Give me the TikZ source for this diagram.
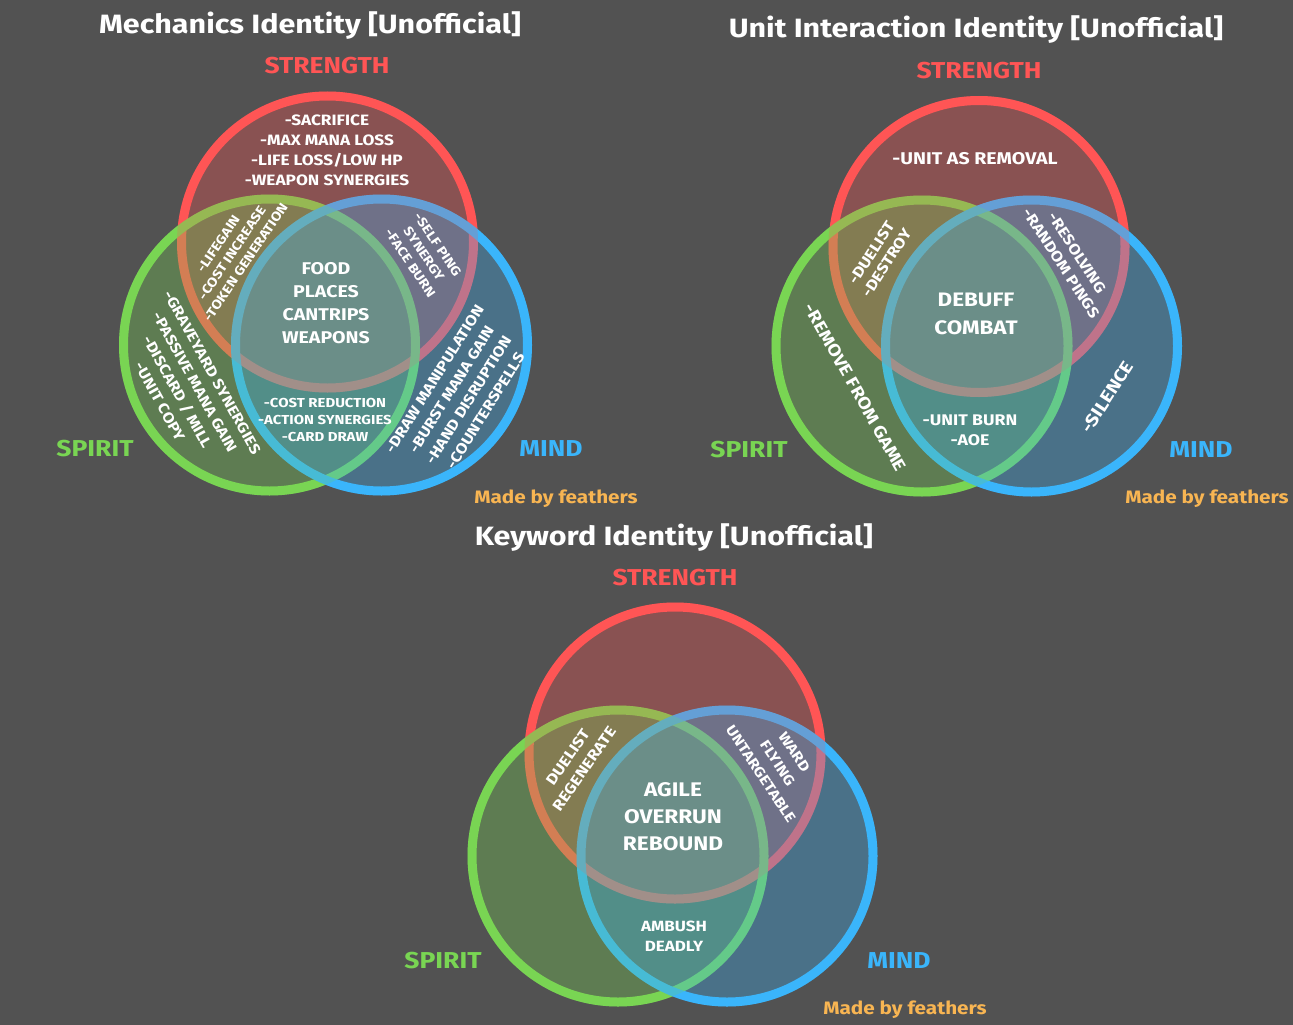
\documentclass[tikz,border=0pt]{standalone}
\usepackage{fontspec}
\setmainfont{Fira Sans}[FakeStretch=1.15]
\definecolor{bgc}{HTML}{525252}
\definecolor{strc}{HTML}{FF5555}
\definecolor{spic}{HTML}{79D553}
\definecolor{minc}{HTML}{3AB5FB}
\definecolor{sigc}{HTML}{F8B552}
\tikzset{
  ring/.style={line width=9pt},
  strring/.style={ring, draw=strc},
  spiring/.style={ring, draw=spic},
  minring/.style={ring, draw=minc},
  strfill/.style={fill=strc, fill opacity=0.32},
  spifill/.style={fill=spic, fill opacity=0.32},
  minfill/.style={fill=minc, fill opacity=0.32},
  txt/.style={text=white, align=center, inner sep=0pt},
  fs/.style 2 args={font=\fontsize{#1}{#2}\selectfont\bfseries},
  title/.style={txt, fs={26.5}{30}},
  head/.style={align=center, inner sep=0pt, fs={23}{26}},
  sign/.style={text=sigc, inner sep=0pt, fs={18}{20}},
}
% rings first, then translucent discs on top so crossing rings take the tint
\newcommand\drawvenn[6]{%
  \draw[strring] (#1,#2) circle[radius=146];
  \draw[spiring] (#3,#4) circle[radius=146];
  \draw[minring] (#5,#6) circle[radius=146];
  \fill[strfill] (#1,#2) circle[radius=150.5];
  \fill[spifill] (#3,#4) circle[radius=150.5];
  \fill[minfill] (#5,#6) circle[radius=150.5];
}
\begin{document}
\begin{tikzpicture}[x=1pt,y=-1pt]
\fill[bgc] (0,0) rectangle (1293,1025);
\useasboundingbox (0,0) rectangle (1293,1025);

% ---------------- Mechanics ----------------
\drawvenn{327.5}{242}{269.5}{345}{381.5}{345}
\node[title] (mt) at (310,26) {Mechanics Identity [Unofficial]};
\node[head, text=strc] (ms) at (327,66) {STRENGTH};
\node[head, text=spic] (mp) at (95,449) {SPIRIT};
\node[head, text=minc] (mm) at (551,449) {MIND};
\node[sign] (mf) at (556,499) {Made by feathers};
\node[txt, fs={15}{20}] (m1) at (327,150) {-SACRIFICE\\-MAX MANA LOSS\\-LIFE LOSS/LOW HP\\-WEAPON SYNERGIES};
\node[txt, fs={13}{16.5}, rotate=56] (m2) at (232,253) {-LIFEGAIN\\-COST INCREASE\\-TOKEN GENERATION};
\node[txt, fs={13}{16.5}, rotate=-56] (m3) at (424,254) {-SELF PING\\SYNERGY\\-FACE BURN};
\node[txt, fs={14.7}{20}, rotate=-61] (m4) at (186,387) {-GRAVEYARD SYNERGIES\\-PASSIVE MANA GAIN\\-DISCARD / MILL\\-UNIT COPY};
\node[txt, fs={14.7}{20}, rotate=58] (m5) at (460,395) {-DRAW MANIPULATION\\-BURST MANA GAIN\\-HAND DISRUPTION\\-COUNTERSPELLS};
\node[txt, fs={17}{23}] (m6) at (326,303.5) {FOOD\\PLACES\\CANTRIPS\\WEAPONS};
\node[txt, fs={13}{17}] (m7) at (325,420) {-COST REDUCTION\\-ACTION SYNERGIES\\-CARD DRAW};

% ---------------- Unit Interaction ----------------
\drawvenn{979}{246.5}{922}{346}{1031.5}{346}
\node[title] (ut) at (976,30) {Unit Interaction Identity [Unofficial]};
\node[head, text=strc] (us) at (979,71) {STRENGTH};
\node[head, text=spic] (up) at (749,450) {SPIRIT};
\node[head, text=minc] (um) at (1201,450) {MIND};
\node[sign] (uf) at (1207,499) {Made by feathers};
\node[txt, fs={17}{20}] (u1) at (975,159) {-UNIT AS REMOVAL};
\node[txt, fs={15}{18}, rotate=57] (u2) at (879,258) {-DUELIST\\-DESTROY};
\node[txt, fs={15}{19}, rotate=-57] (u3) at (1069,258) {-RESOLVING\\-RANDOM PINGS};
\node[txt, fs={19.5}{28}] (u4) at (976,314) {DEBUFF\\COMBAT};
\node[txt, fs={17}{20}, rotate=-60.5] (u5) at (855.5,387.5) {-REMOVE FROM GAME};
\node[txt, fs={15.4}{20}] (u6) at (970,430) {-UNIT BURN\\-AOE};
\node[txt, fs={17.5}{20}, rotate=57] (u7) at (1107.5,397) {-SILENCE};

% ---------------- Keyword ----------------
\drawvenn{675}{753}{618}{856}{727}{856}
\node[title] (kt) at (674,538) {Keyword Identity [Unofficial]};
\node[head, text=strc] (ks) at (675,578) {STRENGTH};
\node[head, text=spic] (kp) at (443,961) {SPIRIT};
\node[head, text=minc] (km) at (899,961) {MIND};
\node[sign] (kf) at (905,1010) {Made by feathers};
\node[txt, fs={15}{20}, rotate=55] (k1) at (576,763) {DUELIST\\REGENERATE};
\node[txt, fs={14.3}{20}, rotate=-56.5] (k2) at (777.5,763) {WARD\\FLYING\\UNTARGETABLE};
\node[txt, fs={19.7}{27}] (k3) at (673,817) {AGILE\\OVERRUN\\REBOUND};
\node[txt, fs={14.8}{20}] (k4) at (674,936) {AMBUSH\\DEADLY};
\end{tikzpicture}
\end{document}
